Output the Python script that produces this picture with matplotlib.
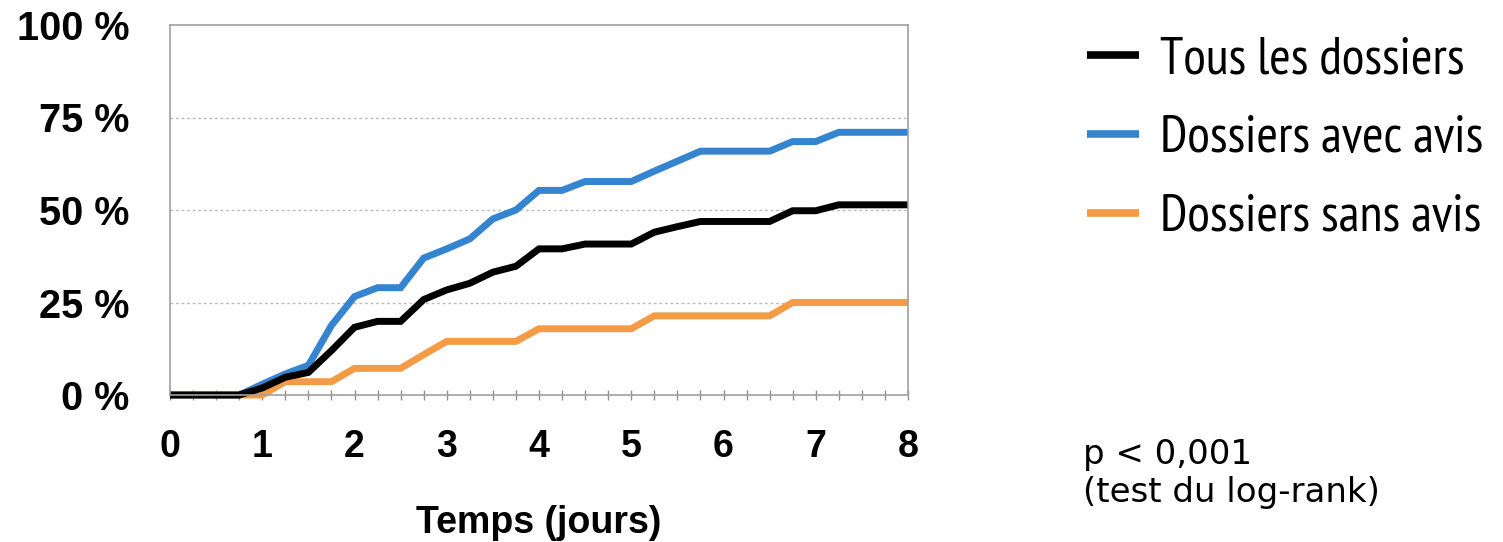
import matplotlib
matplotlib.use("Agg")
import matplotlib.pyplot as plt
from matplotlib.ticker import MultipleLocator, FixedLocator, FuncFormatter

# Data (time in days, cumulative %)
days = [i * 0.25 for i in range(33)]
tous = [0, 0, 0, 0, 1.9, 4.8, 6.1, 12.0, 18.3, 19.9, 19.9, 25.8, 28.4, 30.2, 33.2, 34.8,
        39.5, 39.5, 40.8, 40.8, 40.8, 44.0, 45.5, 46.9, 46.9, 46.9, 46.9, 49.8, 49.8, 51.4,
        51.4, 51.4, 51.4]
avec = [0, 0, 0, 0, 2.9, 5.7, 8.0, 18.8, 26.6, 29.0, 29.0, 37.0, 39.5, 42.2, 47.6, 50.0,
        55.3, 55.3, 57.7, 57.7, 57.7, 60.5, 63.2, 65.9, 65.9, 65.9, 65.9, 68.5, 68.5, 71.0,
        71.0, 71.0, 71.0]
sans = [0, 0, 0, 0, 0, 3.6, 3.6, 3.6, 7.2, 7.2, 7.2, 10.9, 14.5, 14.5, 14.5, 14.5,
        17.9, 17.9, 17.9, 17.9, 17.9, 21.4, 21.4, 21.4, 21.4, 21.4, 21.4, 25.0, 25.0, 25.0,
        25.0, 25.0, 25.0]
labels = ["Tous les dossiers", "Dossiers avec avis", "Dossiers sans avis"]
colors = ["#000000", "#3584D0", "#F59B45"]
x_ticks = list(range(9))
y_ticks = [0, 25, 50, 75, 100]

fig = plt.figure(figsize=(15.03, 5.42), dpi=100)
ax = fig.add_axes([170 / 1503, 1 - 395 / 542, (908 - 170) / 1503, (395 - 25) / 542])

lines = []
for ys, c, lab in [(avec, colors[1], labels[1]), (sans, colors[2], labels[2]), (tous, colors[0], labels[0])]:
    l, = ax.plot(days, ys, color=c, lw=5, solid_joinstyle="miter", solid_capstyle="butt",
                 label=lab, clip_on=False)
    lines.append(l)

ax.set_xlim(0, 8)
ax.set_ylim(0, 100)
ax.xaxis.set_major_locator(FixedLocator(x_ticks))
ax.xaxis.set_minor_locator(MultipleLocator(0.25))
ax.yaxis.set_major_locator(FixedLocator(y_ticks))
ax.yaxis.set_major_formatter(FuncFormatter(lambda v, p: f"{int(v)} %"))

for s in ax.spines.values():
    s.set_color("#A0A0A0")
    s.set_linewidth(1.2)

ax.tick_params(axis="x", which="both", direction="inout", length=7, width=1, color="#909090",
               labelsize=27, pad=21)
ax.tick_params(axis="y", which="both", length=0, labelsize=28.5, pad=29)
for t in ax.get_xticklabels() + ax.get_yticklabels():
    t.set_fontweight("bold")
    t.set_family("Liberation Sans")

for yv in [25, 50, 75]:
    ax.axhline(yv, color="#BBBBBB", lw=1, ls=(0, (2, 2)), zorder=0)

ax.set_xlabel("Temps (jours)", fontsize=27, fontweight="bold", family="Liberation Sans", labelpad=29)

handles = [lines[2], lines[0], lines[1]]
leg = fig.legend(handles, labels, loc="upper left", bbox_to_anchor=(1087 / 1503, 1 - 36 / 542),
                 frameon=False, prop={"family": "PT Sans Narrow", "size": 37.5},
                 handlelength=1.0, handletextpad=0.4, labelspacing=0.6, borderpad=0,
                 borderaxespad=0)
for h in leg.legend_handles:
    h.set_linewidth(5.5)

fig.text(1083 / 1503, 1 - 502 / 542, "p < 0,001\n(test du log-rank)", fontsize=24.5,
         family="DejaVu Sans", linespacing=1.2, va="baseline")

fig.savefig("out.png", dpi=100)
